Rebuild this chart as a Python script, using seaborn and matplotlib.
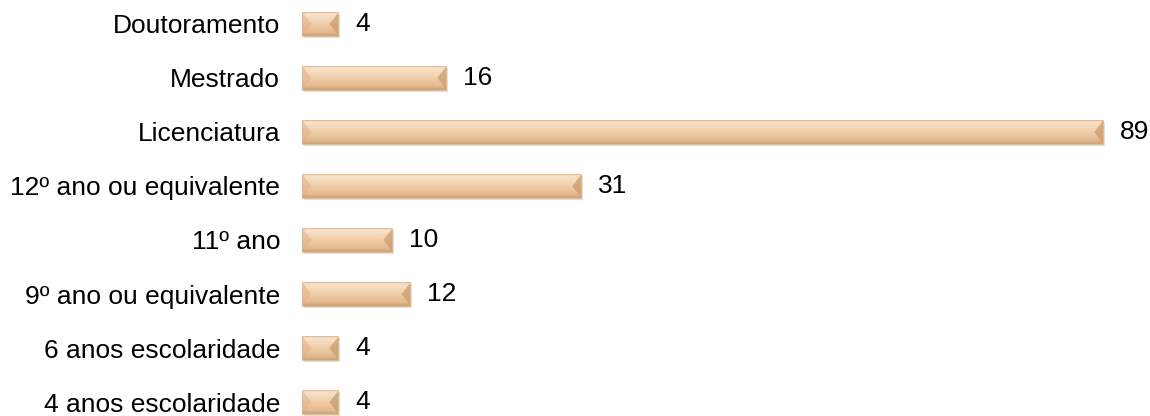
import numpy as np
import pandas as pd
import matplotlib
matplotlib.use("Agg")
import matplotlib.pyplot as plt
from matplotlib.patches import Polygon
from matplotlib.colors import LinearSegmentedColormap
import seaborn as sns

levels = [
    "Doutoramento",
    "Mestrado",
    "Licenciatura",
    "12º ano ou equivalente",
    "11º ano",
    "9º ano ou equivalente",
    "6 anos escolaridade",
    "4 anos escolaridade",
]
counts = [4, 16, 89, 31, 10, 12, 4, 4]

df = pd.DataFrame({"nivel": levels, "n": counts})

sns.set_theme(style="white")
plt.rcParams["font.family"] = ["Liberation Sans", "DejaVu Sans"]

fig = plt.figure(figsize=(11.5, 4.16), dpi=100)
ax = fig.add_axes([0.263, 0.0, 0.737, 1.0])

sns.barplot(data=df, x="n", y="nivel", orient="h", color="#F0CBA5",
            width=0.43, ax=ax, saturation=1.0)

ax.set_xlim(0, 94.2)
ax.set_ylim(7.259, -0.444)
ax.set_xlabel("")
ax.set_ylabel("")
ax.set_xticks([])
for s in ax.spines.values():
    s.set_visible(False)
ax.tick_params(axis="y", length=0, pad=16, labelsize=19, labelcolor="black")

fig.canvas.draw()
inv = ax.transData.inverted()

def px_to_data(dx_px, dy_px):
    p0 = inv.transform((0, 0))
    p1 = inv.transform((dx_px, dy_px))
    return abs(p1[0] - p0[0]), abs(p1[1] - p0[1])

# pillow-style bevel: light top fading to warm tan bottom
face_cmap = LinearSegmentedColormap.from_list(
    "face", [(0.0, "#F1D6BC"), (0.12, "#F8E2C9"), (0.45, "#F2D0AA"),
             (0.85, "#E4B98F"), (1.0, "#CDA27A")])

bevel_x, _ = px_to_data(9, 0)
shadow_x, shadow_y = px_to_data(1.5, 2)

for patch, val in zip(ax.patches, counts):
    x0 = patch.get_x()
    w = patch.get_width()
    top = patch.get_y()
    h = patch.get_height()
    bot = top + h
    x1 = x0 + w
    ymid = (top + bot) / 2
    patch.set_visible(False)

    # soft drop shadow
    ax.add_patch(plt.Rectangle((x0 + shadow_x, top + shadow_y), w, h,
                               color="#CCCCCC", alpha=0.6, lw=0, zorder=1))

    # face with vertical gradient
    grad = np.linspace(0, 1, 64).reshape(-1, 1)
    im = ax.imshow(grad, cmap=face_cmap, aspect="auto",
                   extent=(x0, x1, bot, top), zorder=2,
                   interpolation="bilinear")
    clip = plt.Rectangle((x0, top), w, h, transform=ax.transData,
                         fill=False, lw=0)
    ax.add_patch(clip)
    im.set_clip_path(clip)

    bx = min(bevel_x, w / 2.5)

    # left end: warm triangle pointing to the middle
    ax.add_patch(Polygon([(x0, top), (x0 + bx, ymid), (x0, bot)],
                         closed=True, color="#E0B287", alpha=0.55, lw=0,
                         zorder=3))
    # right end: darker triangle
    ax.add_patch(Polygon([(x1, top), (x1 - bx, ymid), (x1, bot)],
                         closed=True, color="#C9996C", alpha=0.7, lw=0,
                         zorder=3))
    # fine outline
    ax.add_patch(plt.Rectangle((x0, top), w, h, fill=False,
                               edgecolor="#D3B292", lw=0.5, zorder=4))

    ax.annotate(f"{val}", xy=(x1, ymid), xytext=(17, 0),
                textcoords="offset pixels",
                va="center", ha="left", fontsize=19, color="black")

fig.savefig("out.png", dpi=100, facecolor="white")
